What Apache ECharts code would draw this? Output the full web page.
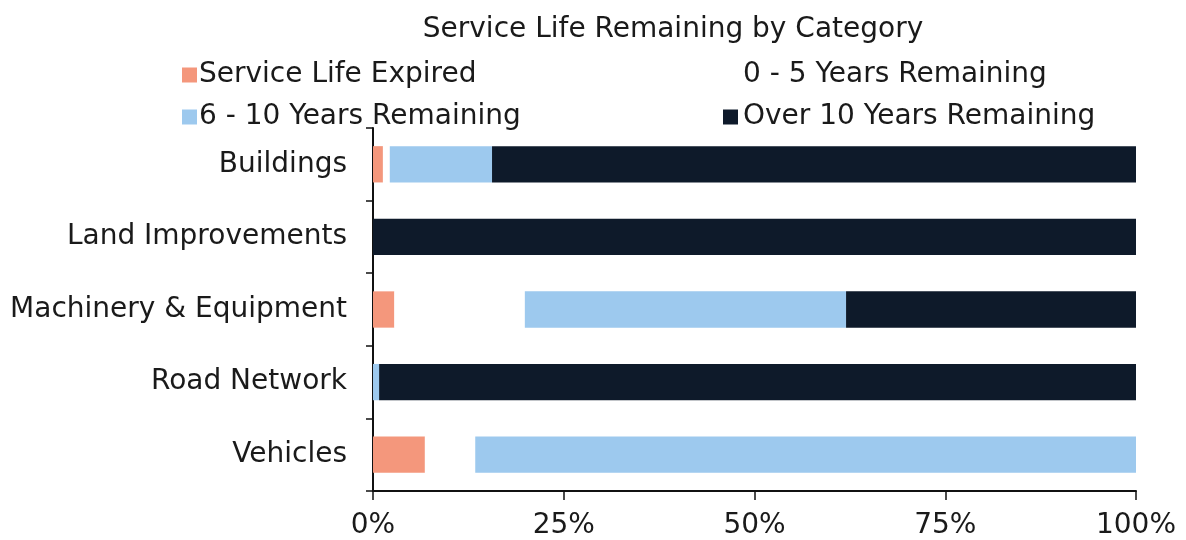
<!DOCTYPE html>
<html>
<head>
<meta charset="utf-8">
<script src="https://cdn.jsdelivr.net/npm/echarts@6/dist/echarts.min.js"></script>
<style>
  html, body { margin: 0; padding: 0; background: #ffffff; }
  #chart { width: 1186px; height: 540px; }
</style>
</head>
<body>
<div id="chart"></div>
<script>
// Asset categories, top to bottom
const categories = ['Buildings', 'Land Improvements', 'Machinery & Equipment', 'Road Network', 'Vehicles'];

// Share of each category (percent) by remaining service life
const expired      = [1.3, 0,    2.8,  0,    6.8];
const zeroToFive   = [0.9, 0,    17.1, 0,    6.6];
const sixToTen     = [13.4, 0,   42.1, 0.8,  86.6];
const overTen      = [84.4, 100, 38.0, 99.2, 0];

const seriesNames = ['Service Life Expired', '0 - 5 Years Remaining', '6 - 10 Years Remaining', 'Over 10 Years Remaining'];
const xTicks = [0, 25, 50, 75, 100];

const font = '"DejaVu Sans", Verdana, sans-serif';
const colors = ['#f4977c', '#ffffff', '#9dc9ee', '#0e1a2a'];

const chart = echarts.init(document.getElementById('chart'));

function bar(name, data, color) {
  return {
    name: name,
    type: 'bar',
    stack: 'total',
    barWidth: '50%',
    data: data,
    itemStyle: { color: color },
    emphasis: { disabled: true }
  };
}

chart.setOption({
  animation: false,
  backgroundColor: '#ffffff',
  title: {
    text: 'Service Life Remaining by Category',
    left: 668,
    textAlign: 'center',
    top: 11,
    textStyle: { fontFamily: font, fontSize: 28, fontWeight: 'normal', color: '#1a1a1a' }
  },
  legend: [
    {
      data: [seriesNames[0], seriesNames[2]],
      orient: 'vertical',
      left: 177,
      top: 56,
      itemWidth: 15,
      itemHeight: 15,
      itemGap: 14,
      icon: 'rect',
      textStyle: { fontFamily: font, fontSize: 28, color: '#1a1a1a', padding: [0, 0, 0, -3] }
    },
    {
      data: [seriesNames[1], seriesNames[3]],
      orient: 'vertical',
      left: 718,
      top: 56,
      itemWidth: 15,
      itemHeight: 15,
      itemGap: 14,
      icon: 'rect',
      textStyle: { fontFamily: font, fontSize: 28, color: '#1a1a1a', padding: [0, 0, 0, 0] }
    }
  ],
  grid: { left: 373, right: 50, top: 128, bottom: 48 },
  xAxis: {
    type: 'value',
    min: 0,
    max: 100,
    interval: 25,
    axisLine: { show: true, lineStyle: { color: '#111', width: 2 } },
    axisTick: { show: true, length: 9, lineStyle: { color: '#111', width: 1.5 } },
    splitLine: { show: false },
    axisLabel: {
      fontFamily: font,
      fontSize: 28,
      color: '#1a1a1a',
      margin: 21,
      formatter: function (v) { return xTicks.indexOf(v) >= 0 ? v + '%' : ''; }
    }
  },
  yAxis: {
    type: 'category',
    inverse: true,
    data: categories,
    axisLine: { show: true, lineStyle: { color: '#111', width: 2 } },
    axisTick: { show: true, length: 7, lineStyle: { color: '#111', width: 1.5 } },
    axisLabel: { fontFamily: font, fontSize: 28, color: '#1a1a1a', margin: 26 }
  },
  series: [
    bar(seriesNames[0], expired, colors[0]),
    bar(seriesNames[1], zeroToFive, colors[1]),
    bar(seriesNames[2], sixToTen, colors[2]),
    bar(seriesNames[3], overTen, colors[3])
  ]
});
</script>
</body>
</html>
